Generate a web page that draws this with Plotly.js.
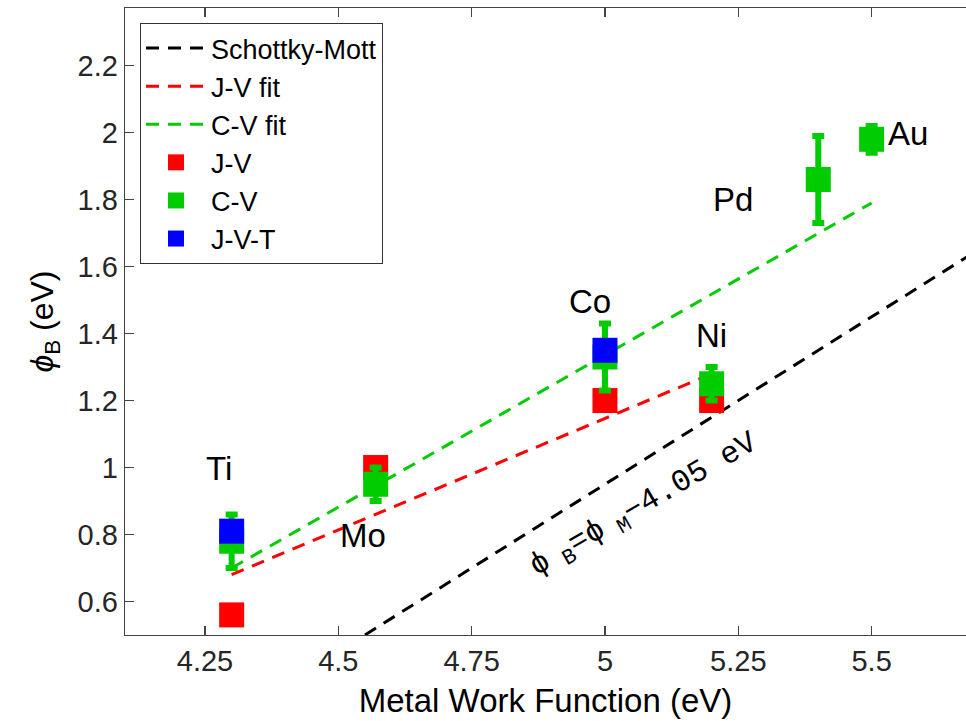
<!DOCTYPE html>
<html>
<head>
<meta charset="utf-8">
<script src="https://cdn.plot.ly/plotly-3.0.1.min.js"></script>
<style>
html,body{margin:0;padding:0;background:#fff;}
#chart{width:966px;height:721px;}
</style>
</head>
<body>
<div id="chart"></div>
<script>
// ---- data ----
var smX = [4.55, 5.7];
var smY = [0.50, 1.65];

var jvFitX = [4.3, 5.2];
var jvFitY = [0.68, 1.28];

var cvFitX = [4.3, 5.5];
var cvFitY = [0.70, 1.79];

var jvX = [4.3, 4.57, 5.0, 5.2];
var jvY = [0.56, 1.00, 1.20, 1.20];

var cvX = [4.3, 4.57, 5.0, 5.2, 5.4, 5.5];
var cvY = [0.78, 0.95, 1.33, 1.25, 1.86, 1.98];
var cvErr = [0.08, 0.05, 0.10, 0.05, 0.13, 0.04];

var jvtX = [4.3, 5.0];
var jvtY = [0.81, 1.35];

var metalNames = ["Ti", "Mo", "Co", "Ni", "Pd", "Au"];
var metalLabelX = [4.276, 4.546, 4.972, 5.2, 5.24, 5.569];
var metalLabelY = [0.997, 0.796, 1.496, 1.394, 1.80, 1.998];

var xTickVals = [4.25, 4.5, 4.75, 5, 5.25, 5.5];
var xTickText = ["4.25", "4.5", "4.75", "5", "5.25", "5.5"];
var yTickVals = [0.6, 0.8, 1.0, 1.2, 1.4, 1.6, 1.8, 2.0, 2.2];
var yTickText = ["0.6", "0.8", "1", "1.2", "1.4", "1.6", "1.8", "2", "2.2"];

var eqText = "ϕ<sub> B</sub>=ϕ<sub> M</sub>−4.05 eV";
var eqX = 5.075, eqY = 0.885;

// ---- styles ----
var RED = "#FF0000", GREEN = "#00CC00", BLUE = "#0000FF";
var DASH = "13px,9px";
var FONT = "Liberation Sans, Arial, sans-serif";

var traces = [
  {x: smX, y: smY, mode: "lines", name: "Schottky-Mott",
   line: {color: "#000", width: 3, dash: DASH}},
  {x: jvFitX, y: jvFitY, mode: "lines", name: "J-V fit",
   line: {color: RED, width: 3, dash: DASH}},
  {x: cvFitX, y: cvFitY, mode: "lines", name: "C-V fit",
   line: {color: GREEN, width: 3, dash: DASH}},
  {x: jvX, y: jvY, mode: "markers", name: "J-V",
   marker: {symbol: "square", size: 25, color: RED, line: {width: 0}}},
  {x: cvX, y: cvY, mode: "markers", name: "C-V",
   marker: {symbol: "square", size: 25, color: GREEN, line: {width: 0}},
   error_y: {type: "data", array: cvErr, visible: true, color: GREEN, thickness: 6, width: 6}},
  {x: jvtX, y: jvtY, mode: "markers", name: "J-V-T",
   marker: {symbol: "square", size: 25, color: BLUE, line: {width: 0}}}
];

var annotations = [];
for (var i = 0; i < metalNames.length; i++) {
  annotations.push({x: metalLabelX[i], y: metalLabelY[i], xref: "x", yref: "y",
    text: metalNames[i], showarrow: false,
    font: {family: FONT, size: 33, color: "#000"}});
}
annotations.push({x: eqX, y: eqY, xref: "x", yref: "y", text: eqText, showarrow: false,
  textangle: -30, font: {family: "Liberation Mono, Courier New, monospace", size: 31, color: "#000"}});

var layout = {
  width: 966, height: 721,
  margin: {l: 125, r: 0, t: 8, b: 86},
  paper_bgcolor: "#fff", plot_bgcolor: "#fff",
  font: {family: FONT, color: "#262626"},
  showlegend: true,
  legend: {x: 15/841, y: (635-23)/627, xanchor: "left", yanchor: "top",
    bgcolor: "#fff", bordercolor: "#333", borderwidth: 1,
    font: {family: FONT, size: 27, color: "#000"}, itemwidth: 60,
    tracegroupgap: 0},
  xaxis: {range: [4.1, 5.677], tickvals: xTickVals, ticktext: xTickText,
    ticks: "inside", ticklen: 9, tickwidth: 1.3, tickcolor: "#444",
    showline: true, linecolor: "#444", linewidth: 1.3, mirror: "ticks",
    showgrid: false, zeroline: false,
    tickfont: {family: FONT, size: 29, color: "#262626"},
    title: {text: "Metal Work Function (eV)", font: {family: FONT, size: 33, color: "#000"}, standoff: 12}},
  yaxis: {range: [0.5, 2.372], tickvals: yTickVals, ticktext: yTickText,
    ticks: "inside", ticklen: 9, tickwidth: 1.3, tickcolor: "#444",
    showline: true, linecolor: "#444", linewidth: 1.3, mirror: false,
    showgrid: false, zeroline: false,
    tickfont: {family: FONT, size: 29, color: "#262626"},
    title: {text: "<i>ϕ</i><sub>B</sub> (eV)", font: {family: FONT, size: 32, color: "#000"}, standoff: 14}},
  annotations: annotations
};

Plotly.newPlot("chart", traces, layout, {displayModeBar: false, staticPlot: true});
</script>
</body>
</html>
